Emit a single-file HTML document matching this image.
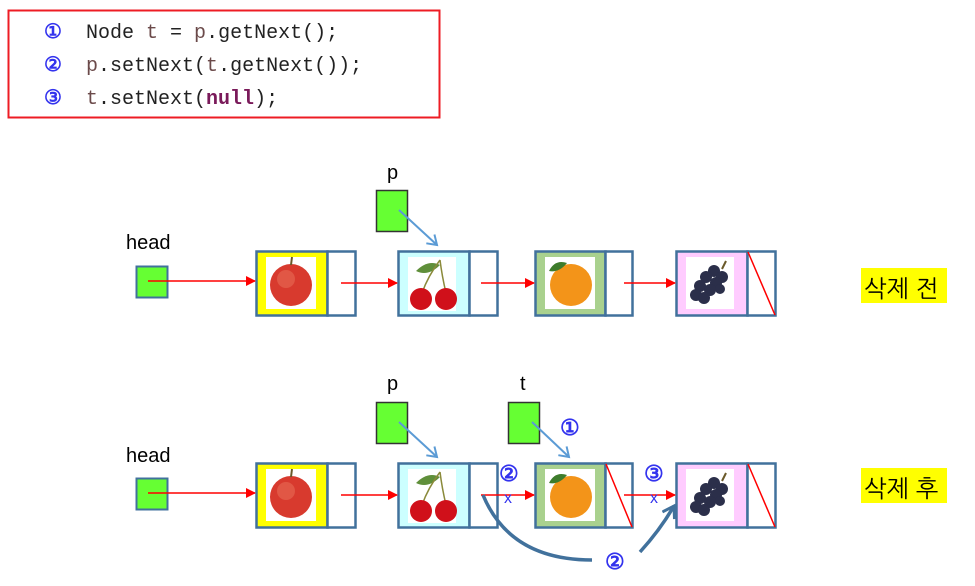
<!DOCTYPE html>
<html><head><meta charset="utf-8"><style>
html,body{margin:0;padding:0;background:#fff;}
svg{display:block;}
text{font-family:"Liberation Sans","NanumGothic",sans-serif;}
.mono{font-family:"Liberation Mono",monospace;font-size:20px;fill:#222;}
.num{font-family:"Liberation Sans",sans-serif;font-weight:bold;fill:#3333ee;}
</style></head><body>
<svg width="975" height="586" viewBox="0 0 975 586" xmlns="http://www.w3.org/2000/svg">
<defs>
<marker id="ar" markerWidth="10" markerHeight="10" refX="9" refY="5" orient="auto" markerUnits="userSpaceOnUse"><path d="M0,0 L10,5 L0,10 z" fill="#ff0000"/></marker>
<marker id="ab" markerWidth="14" markerHeight="14" refX="10" refY="7" orient="auto" markerUnits="userSpaceOnUse"><path d="M1,1 L10,7 L1,13" fill="none" stroke="#5b9bd5" stroke-width="2"/></marker>
<marker id="ad" markerWidth="16" markerHeight="16" refX="12" refY="8" orient="auto" markerUnits="userSpaceOnUse"><path d="M1,1 L12,8 L1,15" fill="none" stroke="#41719c" stroke-width="3"/></marker>
<g id="apple"><rect x="10" y="6" width="50" height="52" fill="#fff"/><circle cx="35" cy="34" r="21" fill="#d83a2e"/><circle cx="30" cy="28" r="9" fill="#e86a55" opacity="0.6"/><line x1="35" y1="14" x2="36" y2="6" stroke="#6b5a2a" stroke-width="2"/></g>
<g id="cherry"><rect x="10" y="6" width="48" height="54" fill="#fff"/><path d="M18,20 Q30,8 42,14 Q30,26 18,20z" fill="#5f8f3a"/><path d="M42,9 Q30,25 24,42 M42,9 Q44,25 48,42" stroke="#8a8a3a" stroke-width="1.5" fill="none"/><circle cx="23" cy="48" r="11" fill="#d0101a"/><circle cx="48" cy="48" r="11" fill="#d0101a"/></g>
<g id="orange"><rect x="10" y="6" width="50" height="52" fill="#fff"/><circle cx="36" cy="34" r="21" fill="#f39419"/><path d="M14,20 Q20,8 32,12 Q24,22 14,20z" fill="#3e7c2c"/></g>
<g id="grape"><rect x="10" y="6" width="48" height="52" fill="#fff"/><g fill="#2b2f4a"><circle cx="38" cy="20" r="6"/><circle cx="46" cy="26" r="6"/><circle cx="30" cy="26" r="6"/><circle cx="40" cy="32" r="6"/><circle cx="24" cy="35" r="6"/><circle cx="34" cy="39" r="6"/><circle cx="20" cy="44" r="6"/><circle cx="28" cy="47" r="6"/><circle cx="44" cy="38" r="5"/></g><line x1="46" y1="18" x2="50" y2="10" stroke="#6b5a2a" stroke-width="2"/></g>
</defs>
<!-- code box -->
<rect x="8.5" y="10.5" width="431" height="107" fill="#fff" stroke="#ee1c24" stroke-width="2"/>
<text class="num" x="44" y="38" font-size="20">①</text>
<text class="num" x="44" y="71" font-size="20">②</text>
<text class="num" x="44" y="104" font-size="20">③</text>
<text class="mono" x="86" y="38">Node <tspan fill="#6b4a4a">t</tspan> = <tspan fill="#6b4a4a">p</tspan>.getNext();</text>
<text class="mono" x="86" y="71"><tspan fill="#6b4a4a">p</tspan>.setNext(<tspan fill="#6b4a4a">t</tspan>.getNext());</text>
<text class="mono" x="86" y="104"><tspan fill="#6b4a4a">t</tspan>.setNext(<tspan fill="#7a1a5a" font-weight="bold">null</tspan>);</text>

<!-- top row -->
<text x="126" y="249" font-size="20" fill="#000">head</text>
<rect x="136.5" y="266.5" width="31" height="31" fill="#66ff33" stroke="#41719c" stroke-width="2"/>
<text x="387" y="179" font-size="20" fill="#000">p</text>
<rect x="376.5" y="190.5" width="31" height="41" fill="#66ff33" stroke="#333" stroke-width="1.5"/>

<g>
<rect x="256.5" y="251.5" width="71" height="64" fill="#ffff00" stroke="#41719c" stroke-width="2.5"/>
<rect x="327.5" y="251.5" width="28" height="64" fill="#fff" stroke="#41719c" stroke-width="2.5"/>
<use href="#apple" x="256" y="251"/>
<rect x="398.5" y="251.5" width="71" height="64" fill="#ccffff" stroke="#41719c" stroke-width="2.5"/>
<rect x="469.5" y="251.5" width="28" height="64" fill="#fff" stroke="#41719c" stroke-width="2.5"/>
<use href="#cherry" x="398" y="251"/>
<rect x="535.5" y="251.5" width="70" height="64" fill="#a9d18e" stroke="#41719c" stroke-width="2.5"/>
<rect x="605.5" y="251.5" width="27" height="64" fill="#fff" stroke="#41719c" stroke-width="2.5"/>
<use href="#orange" x="535" y="251"/>
<rect x="676.5" y="251.5" width="71" height="64" fill="#ffccff" stroke="#41719c" stroke-width="2.5"/>
<rect x="747.5" y="251.5" width="28" height="64" fill="#fff" stroke="#41719c" stroke-width="2.5"/>
<use href="#grape" x="676" y="251"/>
<line x1="748" y1="252" x2="775" y2="315" stroke="#ff0000" stroke-width="1.5"/>
</g>
<line x1="148" y1="281" x2="255" y2="281" stroke="#ff0000" stroke-width="1.5" marker-end="url(#ar)"/>
<line x1="341" y1="283" x2="397" y2="283" stroke="#ff0000" stroke-width="1.5" marker-end="url(#ar)"/>
<line x1="481" y1="283" x2="534" y2="283" stroke="#ff0000" stroke-width="1.5" marker-end="url(#ar)"/>
<line x1="624" y1="283" x2="675" y2="283" stroke="#ff0000" stroke-width="1.5" marker-end="url(#ar)"/>
<line x1="399" y1="210" x2="437" y2="245" stroke="#5b9bd5" stroke-width="2" marker-end="url(#ab)"/>
<rect x="861" y="268" width="86" height="35" fill="#ffff00"/>
<text x="864" y="297" font-size="24" font-family="NanumGothic,'Noto Sans CJK KR',sans-serif" fill="#000">삭제 전</text>

<!-- bottom row -->
<text x="126" y="462" font-size="20" fill="#000">head</text>
<rect x="136.5" y="478.5" width="31" height="31" fill="#66ff33" stroke="#41719c" stroke-width="2"/>
<text x="387" y="390" font-size="20" fill="#000">p</text>
<rect x="376.5" y="402.5" width="31" height="41" fill="#66ff33" stroke="#333" stroke-width="1.5"/>
<text x="520" y="390" font-size="20" fill="#000">t</text>
<rect x="508.5" y="402.5" width="31" height="41" fill="#66ff33" stroke="#333" stroke-width="1.5"/>

<rect x="256.5" y="463.5" width="71" height="64" fill="#ffff00" stroke="#41719c" stroke-width="2.5"/>
<rect x="327.5" y="463.5" width="28" height="64" fill="#fff" stroke="#41719c" stroke-width="2.5"/>
<use href="#apple" x="256" y="463"/>
<rect x="398.5" y="463.5" width="71" height="64" fill="#ccffff" stroke="#41719c" stroke-width="2.5"/>
<rect x="469.5" y="463.5" width="28" height="64" fill="#fff" stroke="#41719c" stroke-width="2.5"/>
<use href="#cherry" x="398" y="463"/>
<rect x="535.5" y="463.5" width="70" height="64" fill="#a9d18e" stroke="#41719c" stroke-width="2.5"/>
<rect x="605.5" y="463.5" width="27" height="64" fill="#fff" stroke="#41719c" stroke-width="2.5"/>
<use href="#orange" x="535" y="463"/>
<line x1="606" y1="464" x2="632" y2="527" stroke="#ff0000" stroke-width="1.5"/>
<rect x="676.5" y="463.5" width="71" height="64" fill="#ffccff" stroke="#41719c" stroke-width="2.5"/>
<rect x="747.5" y="463.5" width="28" height="64" fill="#fff" stroke="#41719c" stroke-width="2.5"/>
<use href="#grape" x="676" y="463"/>
<line x1="748" y1="464" x2="775" y2="527" stroke="#ff0000" stroke-width="1.5"/>

<line x1="148" y1="493" x2="255" y2="493" stroke="#ff0000" stroke-width="1.5" marker-end="url(#ar)"/>
<line x1="341" y1="495" x2="397" y2="495" stroke="#ff0000" stroke-width="1.5" marker-end="url(#ar)"/>
<line x1="481" y1="495" x2="534" y2="495" stroke="#ff0000" stroke-width="1.5" marker-end="url(#ar)"/>
<line x1="624" y1="495" x2="675" y2="495" stroke="#ff0000" stroke-width="1.5" marker-end="url(#ar)"/>
<line x1="399" y1="422" x2="437" y2="457" stroke="#5b9bd5" stroke-width="2" marker-end="url(#ab)"/>
<line x1="532" y1="422" x2="569" y2="457" stroke="#5b9bd5" stroke-width="2" marker-end="url(#ab)"/>
<path d="M483,495 Q510,560 592,560" fill="none" stroke="#41719c" stroke-width="3.5"/>
<path d="M640,552 Q660,530 674,506" fill="none" stroke="#41719c" stroke-width="3.5" marker-end="url(#ad)"/>

<text class="num" x="560" y="435" font-size="22">①</text>
<text class="num" x="499" y="481" font-size="22">②</text>
<text x="504" y="503" font-size="16" fill="#3333ee">x</text>
<text class="num" x="644" y="481" font-size="22">③</text>
<text x="650" y="503" font-size="16" fill="#3333ee">x</text>
<text class="num" x="605" y="569" font-size="22">②</text>

<rect x="861" y="468" width="86" height="35" fill="#ffff00"/>
<text x="864" y="497" font-size="24" font-family="NanumGothic,'Noto Sans CJK KR',sans-serif" fill="#000">삭제 후</text>
</svg>
</body></html>
